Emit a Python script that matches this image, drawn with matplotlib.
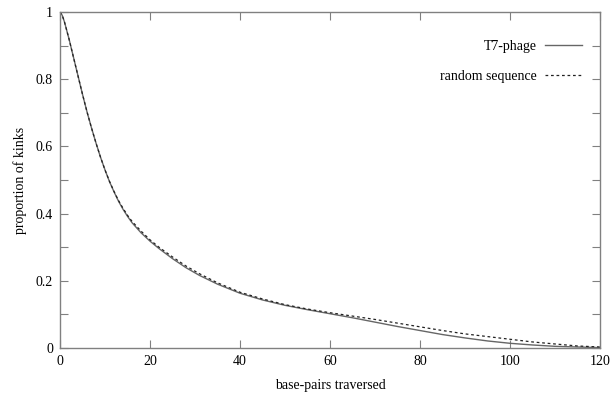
import matplotlib
matplotlib.use('Agg')
import matplotlib.pyplot as plt
from matplotlib.lines import Line2D

plt.rcParams['font.family'] = ['Liberation Serif', 'DejaVu Serif']
plt.rcParams['font.size'] = 10

# base-pairs traversed
bp = [0, 0.5, 1, 2, 3, 4, 5, 6, 7, 8, 9, 10, 11, 12, 13, 14, 15, 16, 18,
      20, 22, 25, 28, 31, 35, 40, 45, 50, 55, 60, 65, 70, 75, 80, 85, 90, 95,
      100, 105, 110, 115, 120]
# proportion of kinks, T7-phage
t7 = [1.0, 0.99, 0.97, 0.92, 0.865, 0.81, 0.755, 0.703, 0.655, 0.61, 0.568,
      0.53, 0.495, 0.465, 0.437, 0.413, 0.392, 0.373, 0.343, 0.318, 0.296,
      0.266, 0.239, 0.216, 0.19, 0.163, 0.143, 0.127, 0.114, 0.102, 0.09,
      0.077, 0.064, 0.052, 0.04, 0.03, 0.021, 0.014, 0.009, 0.005, 0.003,
      0.001]
# proportion of kinks, random sequence
rnd = [1.0, 0.99, 0.97, 0.92, 0.865, 0.81, 0.755, 0.703, 0.655, 0.61, 0.568,
       0.53, 0.496, 0.466, 0.439, 0.416, 0.395, 0.377, 0.348, 0.322, 0.3,
       0.271, 0.244, 0.221, 0.194, 0.166, 0.146, 0.129, 0.116, 0.105, 0.095,
       0.085, 0.074, 0.063, 0.052, 0.042, 0.034, 0.026, 0.018, 0.012, 0.006,
       0.003]

fig = plt.figure(figsize=(6.11, 3.94), dpi=100)
ax = fig.add_axes([60/611, 46/394, 540/611, 336/394])

ax.plot(bp, t7, color='#666666', lw=1.0, solid_joinstyle='round')
ax.plot(bp, rnd, color='#222222', lw=0.9, dashes=(2.2, 2.2))

ax.set_xlim(0, 120)
ax.set_ylim(0, 1)
ax.set_xticks(range(0, 121, 20))
ax.set_yticks([0, 0.1, 0.2, 0.3, 0.4, 0.5, 0.6, 0.7, 0.8, 0.9, 1.0])
ax.set_yticklabels(['0', '', '0.2', '', '0.4', '', '0.6', '', '0.8', '', '1'])
ax.tick_params(direction='in', length=6, width=0.8, color='#808080',
               top=True, right=True, labelsize=10, pad=5)
for s in ax.spines.values():
    s.set_color('#808080')
    s.set_linewidth(1.0)

ax.set_xlabel('base-pairs traversed', fontsize=10, labelpad=8)
ax.set_ylabel('proportion of kinks', fontsize=10, labelpad=6)

# key, gnuplot style (text right-aligned, sample to the right)
ax.text(0.883, 0.897, 'T7-phage', transform=ax.transAxes, ha='right',
        va='center', fontsize=10)
ax.add_line(Line2D([0.898, 0.967], [0.902, 0.902], transform=ax.transAxes,
                   color='#666666', lw=1.0))
ax.text(0.883, 0.808, 'random sequence', transform=ax.transAxes, ha='right',
        va='center', fontsize=10)
ax.add_line(Line2D([0.898, 0.967], [0.813, 0.813], transform=ax.transAxes,
                   color='#222222', lw=0.9, dashes=(2.2, 2.2)))

fig.savefig('out.png', dpi=100)
